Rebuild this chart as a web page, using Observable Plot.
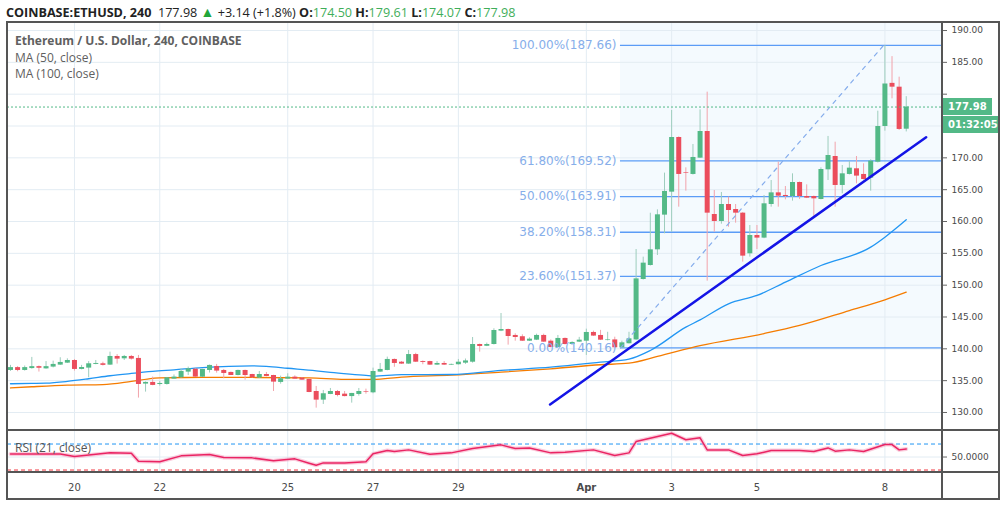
<!DOCTYPE html>
<html><head><meta charset="utf-8">
<script src="https://cdn.jsdelivr.net/npm/d3@7"></script>
<script src="https://cdn.jsdelivr.net/npm/@observablehq/plot@0.6"></script>
<style>
body{margin:0;background:#fff;}
#wrap{position:relative;width:1005px;height:506px;overflow:hidden;background:#fff;}
#wrap svg{position:absolute;left:0;}
.ln{position:absolute;background:#555;}
#hdr{position:absolute;left:6px;top:2px;font:12.6px "Open Sans",sans-serif;color:#222;white-space:nowrap;}
#hdr b{font-weight:700;}
#hdr .g{color:#3fae5a;}
#hdr .tri{color:#22a63a;font-size:14px;}
#leg{position:absolute;left:15px;top:33px;font:12px "Open Sans",sans-serif;color:#606060;line-height:16.5px;}
.box{position:absolute;left:943px;height:17px;background:#53b987;color:#fff;font:bold 10px "DejaVu Sans",sans-serif;line-height:17px;padding-left:5px;box-sizing:border-box;}
</style></head>
<body><div id="wrap"></div>
<script>
// ---------- data (4h candles, COINBASE:ETHUSD) ----------
const firstCandle = Date.UTC(2019, 2, 18, 12); // Mar 18 12:00 UTC
const open = [136.6,137.05,136.6,136.9,137.2,136.85,137.13,137.44,137.75,138.17,136.76,136.97,137.55,137.65,137.44,138.8,138.43,138.8,138.49,134.46,134.72,134.4,134.4,135.24,135.45,136.34,136.8,135.55,136.6,137.23,136.6,136.29,135.81,136.6,135.97,135.4,135.97,135.81,134.72,135.24,135.55,135.4,135.19,133.3,131.94,132.83,133.3,132.88,132.5,132.83,133.3,133.09,136.34,136.6,138.33,137.9,137.6,139.1,138.0,138.0,137.44,137.7,137.44,137.5,137.75,137.9,140.68,140.4,140.68,142.78,143.04,142.1,141.9,141.2,141.36,142.1,141.2,140.2,141.63,140.68,141.05,141.2,142.57,142.1,141.3,141.4,140.16,140.8,141.4,150.89,153.09,155.55,161.0,164.61,173.2,167.7,167.39,169.95,174.14,161.1,160.0,162.67,161.89,161.31,154.93,157.8,157.39,162.67,164.5,164.09,163.93,166.13,163.93,163.93,163.46,168.12,170.21,165.66,167.39,168.28,167.39,166.81,169.32,174.92,181.7,181.1,174.50];
const high = [137.4,137.2,137.3,138.65,137.3,138.0,138.07,138.6,138.43,138.33,137.4,138.0,138.17,137.9,139.48,139.1,138.96,138.96,138.96,134.8,135.56,134.88,135.5,135.9,136.86,137.13,136.9,136.8,137.45,137.55,136.76,136.35,136.65,136.65,136.0,136.44,136.29,135.85,135.71,136.08,135.76,135.45,135.25,134.09,133.46,133.77,133.46,133.3,133.0,133.77,133.67,136.97,137.7,138.7,138.4,138.0,139.74,139.3,138.1,138.05,138.0,138.0,137.6,138.33,138.4,141.78,140.75,140.9,143.15,145.55,143.1,142.36,142.2,141.73,142.3,142.3,141.4,142.1,141.7,141.1,141.8,143.09,142.78,142.9,142.6,141.83,141.2,142.6,155.6,154.4,161.3,161.83,167.6,177.44,173.3,168.43,172.1,177.54,180.32,164.87,164.56,163.83,162.67,161.4,159.37,159.37,164.09,166.44,169.32,165.5,167.49,166.2,165.76,164.0,168.43,173.36,172.46,168.8,169.43,170.21,169.06,169.69,177.33,187.66,185.9,182.67,179.61];
const low = [136.45,136.4,136.5,136.8,136.35,136.8,137.0,137.4,137.7,136.5,136.7,135.45,137.5,137.3,137.4,137.6,138.17,138.23,132.26,133.2,134.2,134.14,134.3,135.2,135.4,135.8,135.5,135.5,136.2,136.18,135.29,135.8,135.75,135.08,135.4,135.35,135.6,133.3,134.45,135.2,135.2,135.05,133.1,130.68,131.26,132.8,132.46,132.45,131.47,132.57,132.88,132.94,136.3,136.55,137.1,137.55,137.55,137.85,137.5,137.4,137.4,137.4,137.4,137.45,137.55,137.75,139.48,140.35,140.6,142.7,140.58,141.2,141.15,141.15,141.3,141.0,140.15,140.15,140.6,140.6,141.0,138.96,141.95,141.3,141.25,140.1,140.1,140.75,141.3,150.8,153.0,154.66,158.07,158.33,162.25,164.77,167.3,169.9,150.63,158.33,159.58,159.1,159.74,153.62,154.4,155.6,157.3,162.25,162.25,163.4,163.2,163.46,163.6,160.79,163.4,166.44,162.25,164.35,167.3,165.92,166.5,164.77,169.2,174.19,179.27,174.3,174.07];
const close = [137.05,136.6,137.05,137.2,136.95,137.2,137.55,137.86,138.17,136.76,137.07,137.65,137.7,137.4,138.8,138.38,138.8,138.38,134.4,134.72,134.25,134.56,135.45,135.56,136.45,136.86,135.56,136.76,137.39,136.5,136.13,135.81,136.6,135.81,135.45,135.97,135.66,134.77,135.29,135.55,135.24,135.08,133.14,131.94,132.94,133.3,132.67,132.5,132.99,133.3,133.2,136.44,136.76,138.33,137.7,137.6,139.1,137.9,137.86,137.44,137.7,137.44,137.55,137.9,138.1,140.68,140.37,140.68,142.88,143.04,141.94,141.78,141.2,141.52,142.1,141.05,140.2,141.63,140.68,141.0,141.36,142.57,142.0,141.36,141.4,140.16,140.94,141.57,150.99,153.46,155.55,161.05,164.72,173.2,167.39,167.6,170.06,174.14,161.31,160.0,162.67,161.73,161.31,154.56,157.8,157.39,162.78,164.5,163.98,163.93,166.13,163.93,163.67,163.56,168.17,170.37,165.66,167.49,168.38,167.13,166.6,169.48,174.92,181.6,181.1,174.46,177.98];

// moving averages (candle index, value)
const ma50Idx = [0,3,5,8,11,14,17,20,23,27,34,36,39,43,45,50,51,55,62,69,76,83,87,90,95,97,101,105,109,114,121,123,126];
const ma50Val = [134.51,134.56,134.6,134.88,135.3,135.77,136.13,136.45,136.7,137.05,137.33,137.25,136.95,136.55,136.3,135.82,135.71,135.95,135.97,136.6,137.12,137.9,138.38,139.74,143.4,144.55,147.07,148.38,150.47,153.09,155.97,157.54,160.27];
const ma100Idx = [0,3,8,13,17,20,21,27,34,42,47,51,55,62,69,76,83,87,91,97,106,111,118,123,126];
const ma100Val = [133.85,134.04,134.3,134.38,134.88,135.35,135.45,135.5,135.5,135.45,135.2,135.19,135.55,135.86,136.33,136.86,137.5,137.75,138.8,140.5,142.4,143.67,146.0,147.7,148.9];

// RSI(21) (candle index, value)
const rsiIdx = [0,7,9,14,17,18,21,24,28,30,34,37,40,42,43,44,47,50,51,53,54,56,59,62,65,69,71,73,76,78,82,85,87,88,93,95,97,98,101,103,105,107,111,113,115,116,118,120,123,124,125,126];
const rsiVal = [54.6,54.6,50.8,56.4,55.9,43.6,42.6,51.8,53.8,49.2,48.7,44.1,47.2,40.5,37.4,41,41,42.6,54.9,60,58.5,61,54.3,56.4,63,68.7,63,64,56.4,57.4,61,52.3,56.4,73.8,86.6,76.5,79.5,61,61,52.3,54.9,60,60,58.5,64,59,61,58.5,69.2,69.2,61,62.5];

// Fibonacci retracement
const fibPct = [0, 23.6, 38.2, 50, 61.8, 100];
const fibPrice = [140.16, 151.37, 158.31, 163.91, 169.52, 187.66];
const fibStartIdx = 85.8, fibEndIdx = 122.8;

// hand-drawn trend line (candle index, price)
const trendIdx = [75.9, 128.8];
const trendPrice = [131.26, 173.24];

// axes
const priceTicks = [130,135,140,145,150,155,160,165,170,175,180,185,190];
const tickDays = ["2019-03-20","2019-03-22","2019-03-25","2019-03-27","2019-03-29","2019-04-01","2019-04-03","2019-04-05","2019-04-08"];
const tickLabels = ["20","22","25","27","29","Apr","3","5","8"];
const monthTick = ["Apr"];
const header = {symbol:"COINBASE:ETHUSD, 240", last:"177.98", change:"+3.14 (+1.8%)", O:"174.50", H:"179.61", L:"174.07", C:"177.98"};
const countdown = "01:32:05";

// ---------- build ----------
const H4 = 4*3600*1000;
const t = i => new Date(firstCandle + i*H4);
const candles = open.map((o,k)=>({time:t(k), open:o, high:high[k], low:low[k], close:close[k]}));
const ups = candles.filter(d=>d.close>=d.open), downs = candles.filter(d=>d.close<d.open);
const ma50 = ma50Idx.map((k,j)=>({time:t(k), v:ma50Val[j]}));
const ma100 = ma100Idx.map((k,j)=>({time:t(k), v:ma100Val[j]}));
const rsi = rsiIdx.map((k,j)=>({time:t(k), v:rsiVal[j]}));
const fib = fibPct.map((p,j)=>({pct:p, price:fibPrice[j]}));
const trend = trendIdx.map((k,j)=>({time:t(k), v:trendPrice[j]}));
const fibDiag = [{time:t(fibStartIdx), v:fibPrice[0]}, {time:t(fibEndIdx), v:fibPrice[fibPrice.length-1]}];
const ticks = tickDays.map(s=>new Date(s+"T00:00:00Z"));
const labelOf = new Map(ticks.map((d,j)=>[+d, tickLabels[j]]));
const xDomain = [t(-0.42), t(131.1)];
const yDomain = [127.17, 191.26];
const yRange = [430, 22];
const lastClose = close[close.length-1];

// price labels hidden behind the last-price / countdown boxes are left out
const yScale = Plot.scale({y:{domain:yDomain, range:yRange}});
const yLast = yScale.apply(lastClose);
const labelTicks = priceTicks.filter(p => { const py = yScale.apply(p); return py < yLast - 13 || py > yLast + 31; });

const axisFont = {fontFamily:"'DejaVu Sans',sans-serif", fontSize:"9px"};
const gridColor = "#e3ecf3";

const main = Plot.plot({
  width:1005, height:430, marginLeft:7, marginRight:63, marginTop:22, marginBottom:0,
  style:{background:"transparent", overflow:"visible", color:"#4a4a4a", ...axisFont},
  x:{type:"utc", domain:xDomain, axis:null},
  y:{domain:yDomain, axis:null},
  marks:[
    Plot.rect([fib[0]], {x1:()=>t(fibStartIdx), x2:()=>xDomain[1], y1:d=>d.price, y2:()=>yDomain[1], fill:"#2196f3", fillOpacity:0.05}),
    Plot.gridY(priceTicks, {stroke:gridColor, strokeOpacity:1}),
    Plot.gridX(ticks, {stroke:gridColor, strokeOpacity:1}),
    Plot.ruleY(fib, {y:"price", x1:()=>t(fibStartIdx), x2:()=>xDomain[1], stroke:"#5b9cf6", strokeWidth:1.3}),
    Plot.line(ma100, {x:"time", y:"v", stroke:"#f57c00", strokeWidth:1.3, curve:"monotone-x"}),
    Plot.line(ma50, {x:"time", y:"v", stroke:"#2196f3", strokeWidth:1.3, curve:"monotone-x"}),
    Plot.ruleX(ups, {x:"time", y1:"low", y2:"high", stroke:"#9dcdbd", strokeWidth:1}),
    Plot.ruleX(downs, {x:"time", y1:"low", y2:"high", stroke:"#f2a3ab", strokeWidth:1}),
    Plot.ruleX(ups, {x:"time", y1:"open", y2:"close", stroke:"#53b987", strokeWidth:5}),
    Plot.ruleX(downs, {x:"time", y1:"open", y2:"close", stroke:"#eb4d5c", strokeWidth:5}),
    Plot.line(fibDiag, {x:"time", y:"v", stroke:"#84acec", strokeWidth:1.2, strokeDasharray:"4,5"}),
    Plot.line(trend, {x:"time", y:"v", stroke:"#1414e6", strokeWidth:2.5}),
    Plot.ruleY([lastClose], {stroke:"#53b987", strokeWidth:1, strokeDasharray:"2,2"}),
    Plot.text(fib, {x:()=>t(fibStartIdx), y:"price", text:d=>d.pct.toFixed(2)+"%("+d.price.toFixed(2)+")", textAnchor:"end", dx:-4, fill:"#86aeea", fontSize:12, fontFamily:"'DejaVu Sans',sans-serif"}),
    Plot.axisY(priceTicks, {anchor:"right", tickFormat:null, text:null, tickSize:4, stroke:"#666", label:null}),
    Plot.axisY(labelTicks, {anchor:"right", tickFormat:d=>d.toFixed(2), tickSize:0, tickPadding:9, label:null})
  ]
});
main.style.top = "0px";

const rsiPlot = Plot.plot({
  width:1005, height:69, marginLeft:7, marginRight:63, marginTop:0, marginBottom:27,
  style:{background:"transparent", overflow:"visible", color:"#4a4a4a", ...axisFont},
  x:{type:"utc", domain:xDomain, axis:null},
  y:{domain:[26.2, 90.8], axis:null},
  marks:[
    Plot.gridX(ticks, {stroke:gridColor, strokeOpacity:1}),
    Plot.ruleY([50], {stroke:gridColor}),
    Plot.ruleY([70], {stroke:"#2196f3", strokeDasharray:"4,3"}),
    Plot.ruleY([30], {stroke:"#f0353d", strokeDasharray:"4,3"}),
    Plot.line(rsi, {x:"time", y:"v", stroke:"#f48fb1", strokeWidth:4, strokeOpacity:0.45}),
    Plot.line(rsi, {x:"time", y:"v", stroke:"#ea2463", strokeWidth:1.5}),
    Plot.axisY([50], {anchor:"right", tickFormat:d=>d.toFixed(4), tickSize:4, tickPadding:5, stroke:"#666", label:null}),
    Plot.axisX(ticks.filter(d=>!monthTick.includes(labelOf.get(+d))), {anchor:"bottom", tickFormat:d=>labelOf.get(+d), tickSize:0, tickPadding:11, fontSize:10, label:null}),
    Plot.axisX(ticks.filter(d=>monthTick.includes(labelOf.get(+d))), {anchor:"bottom", tickFormat:d=>labelOf.get(+d), tickSize:0, tickPadding:11, fontSize:10, fontWeight:"bold", label:null})
  ]
});
rsiPlot.style.top = "430px";

const wrap = document.getElementById("wrap");
wrap.appendChild(main);
wrap.appendChild(rsiPlot);

// pane borders
[[6,21,994,2],[6,498,994,2],[6,21,2,479],[998,21,2,479],[941,21,2,479],[6,429,994,2],[6,471,994,2]].forEach(([l,tp,w,h])=>{
  const d=document.createElement("div"); d.className="ln";
  Object.assign(d.style,{left:l+"px",top:tp+"px",width:w+"px",height:h+"px"}); wrap.appendChild(d);
});

// header and legends
const hdr=document.createElement("div"); hdr.id="hdr";
hdr.innerHTML=`<b>${header.symbol}</b>&nbsp; ${header.last} <span class="tri">&#9650;</span> ${header.change} <b>O:</b><span class="g">${header.O}</span> <b>H:</b><span class="g">${header.H}</span> <b>L:</b><span class="g">${header.L}</span> <b>C:</b><span class="g">${header.C}</span>`;
wrap.appendChild(hdr);
const leg=document.createElement("div"); leg.id="leg";
leg.innerHTML=`<b>Ethereum / U.S. Dollar, 240, COINBASE</b><br>MA (50, close)<br>MA (100, close)`;
wrap.appendChild(leg);
const rl=document.createElement("div");
Object.assign(rl.style,{position:"absolute",left:"15px",top:"439px",font:"12px 'Open Sans',sans-serif",color:"#555"});
rl.textContent="RSI (21, close)"; wrap.appendChild(rl);

// price label boxes on the axis
const yPx = main.scale("y").apply(lastClose);
const b1=document.createElement("div"); b1.className="box";
Object.assign(b1.style,{top:(yPx-8.5)+"px",width:"49px"}); b1.textContent=lastClose.toFixed(2); wrap.appendChild(b1);
const b2=document.createElement("div"); b2.className="box";
Object.assign(b2.style,{top:(yPx+9.5)+"px",width:"55px"}); b2.textContent=countdown; wrap.appendChild(b2);
</script></body></html>
